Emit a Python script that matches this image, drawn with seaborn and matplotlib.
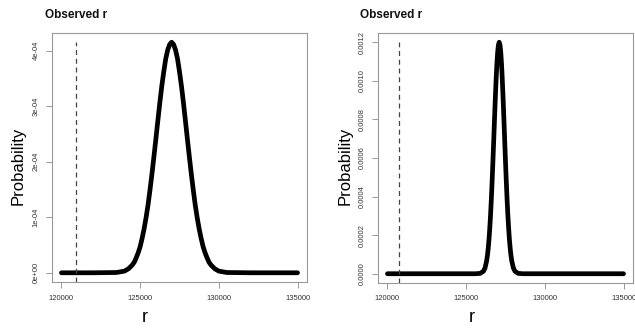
import numpy as np
import pandas as pd
import matplotlib
matplotlib.use("Agg")
import matplotlib.pyplot as plt
import seaborn as sns

# ---- data (probability in units of 1e-4) ----
left_r = [120000, 122000, 123500, 124000, 124250, 124500, 124625, 124750,
          124875, 125000, 125125, 125250, 125375, 125500, 125625, 125750,
          125875, 126000, 126125, 126250, 126375, 126500, 126625, 126750,
          126875, 127000, 127125, 127250, 127375, 127500, 127625, 127750,
          127875, 128000, 128125, 128250, 128375, 128500, 128625, 128750,
          128875, 129000, 129125, 129250, 129375, 129500, 129750, 130000,
          130500, 132000, 135000]
left_p = [0.0, 0.0, 0.005, 0.03, 0.07, 0.14, 0.19, 0.27,
          0.36, 0.47, 0.62, 0.79, 0.99, 1.22, 1.49, 1.78,
          2.09, 2.41, 2.74, 3.06, 3.36, 3.62, 3.85, 4.01,
          4.11, 4.15, 4.11, 4.01, 3.85, 3.62, 3.36, 3.06,
          2.74, 2.41, 2.09, 1.78, 1.49, 1.22, 0.99, 0.79,
          0.62, 0.47, 0.36, 0.27, 0.19, 0.14, 0.07, 0.03,
          0.005, 0.0, 0.0]

right_r = [120000, 124000, 125600, 125900, 126100, 126200, 126300, 126350,
           126400, 126450, 126500, 126550, 126600, 126650, 126700, 126750,
           126800, 126850, 126900, 126950, 127000, 127050, 127100, 127150,
           127200, 127250, 127300, 127350, 127400, 127450, 127500, 127550,
           127600, 127650, 127700, 127750, 127800, 127850, 127900, 128000,
           128100, 128300, 128600, 131000, 135000]
right_p = [0.0, 0.0, 0.0, 0.02, 0.13, 0.30, 0.66, 0.93,
           1.30, 1.76, 2.35, 3.04, 3.86, 4.79, 5.81, 6.88,
           7.98, 9.04, 10.01, 10.84, 11.47, 11.86, 12.0, 11.86,
           11.47, 10.84, 10.01, 9.04, 7.98, 6.88, 5.81, 4.79,
           3.86, 3.04, 2.35, 1.76, 1.30, 0.93, 0.66, 0.30,
           0.13, 0.02, 0.0, 0.0, 0.0]

observed_left = 120900
observed_right = 120750

x_ticks = [120000, 125000, 130000, 135000]
left_yticks = [0, 1e-4, 2e-4, 3e-4, 4e-4]
left_ylabels = ["0e+00", "1e-04", "2e-04", "3e-04", "4e-04"]
right_yticks = [0, 2e-4, 4e-4, 6e-4, 8e-4, 10e-4, 12e-4]
right_ylabels = ["0.0000", "0.0002", "0.0004", "0.0006", "0.0008", "0.0010", "0.0012"]

sns.set_theme(style="white")
plt.rcParams["font.family"] = ["Liberation Sans", "DejaVu Sans"]

fig = plt.figure(figsize=(6.35, 3.33), dpi=100)
W, H = 635, 333

def make_ax(x0, y0, x1, y1):
    return fig.add_axes([x0 / W, 1 - y1 / H, (x1 - x0) / W, (y1 - y0) / H])

panels = [
    dict(box=(52, 33, 307, 282), r=left_r, p=left_p, obs=observed_left,
         ylim=(-0.166e-4, 4.316e-4), yt=left_yticks, yl=left_ylabels,
         obs_top=4.15e-4, title_x=45, ylab_x=18, xlab_x=145),
    dict(box=(378, 33, 633, 283), r=right_r, p=right_p, obs=observed_right,
         ylim=(-0.48e-4, 12.48e-4), yt=right_yticks, yl=right_ylabels,
         obs_top=12.0e-4, title_x=360, ylab_x=345, xlab_x=472),
]

for pn in panels:
    ax = make_ax(*pn["box"])
    df = pd.DataFrame({"r": pn["r"], "prob": np.array(pn["p"]) * 1e-4})
    sns.lineplot(data=df, x="r", y="prob", ax=ax, color="black",
                 linewidth=3.4, solid_capstyle="round", solid_joinstyle="round")
    ax.plot([pn["obs"], pn["obs"]], [pn["ylim"][0], pn["obs_top"]],
            color="#444444", linestyle=(0, (4, 3)), linewidth=0.9)
    ax.set_xlim(119400, 135600)
    ax.set_ylim(*pn["ylim"])
    ax.set_xticks(x_ticks)
    ax.set_xticklabels([str(t) for t in x_ticks], fontsize=5.5, color="#333333")
    ax.set_yticks(pn["yt"])
    ax.set_yticklabels(pn["yl"], fontsize=5.5, color="#333333", rotation=90,
                       va="center")
    ax.tick_params(axis="both", direction="out", length=4, width=0.6,
                   color="#888888", pad=5, bottom=True, left=True)
    for s in ax.spines.values():
        s.set_color("#999999")
        s.set_linewidth(0.8)
    ax.set_xlabel("")
    ax.set_ylabel("")
    fig.text(pn["title_x"] / W, 1 - 15 / H, "Observed r", fontsize=8.5,
             fontweight="bold", ha="left", va="center", color="#111111")
    fig.text(pn["ylab_x"] / W, 1 - 166 / H, "Probability", fontsize=12,
             rotation=90, ha="center", va="center", color="black")
    fig.text(pn["xlab_x"] / W, 1 - 318 / H, "r", fontsize=13,
             ha="center", va="center", color="black")

fig.savefig("out.png", dpi=100, facecolor="white")
